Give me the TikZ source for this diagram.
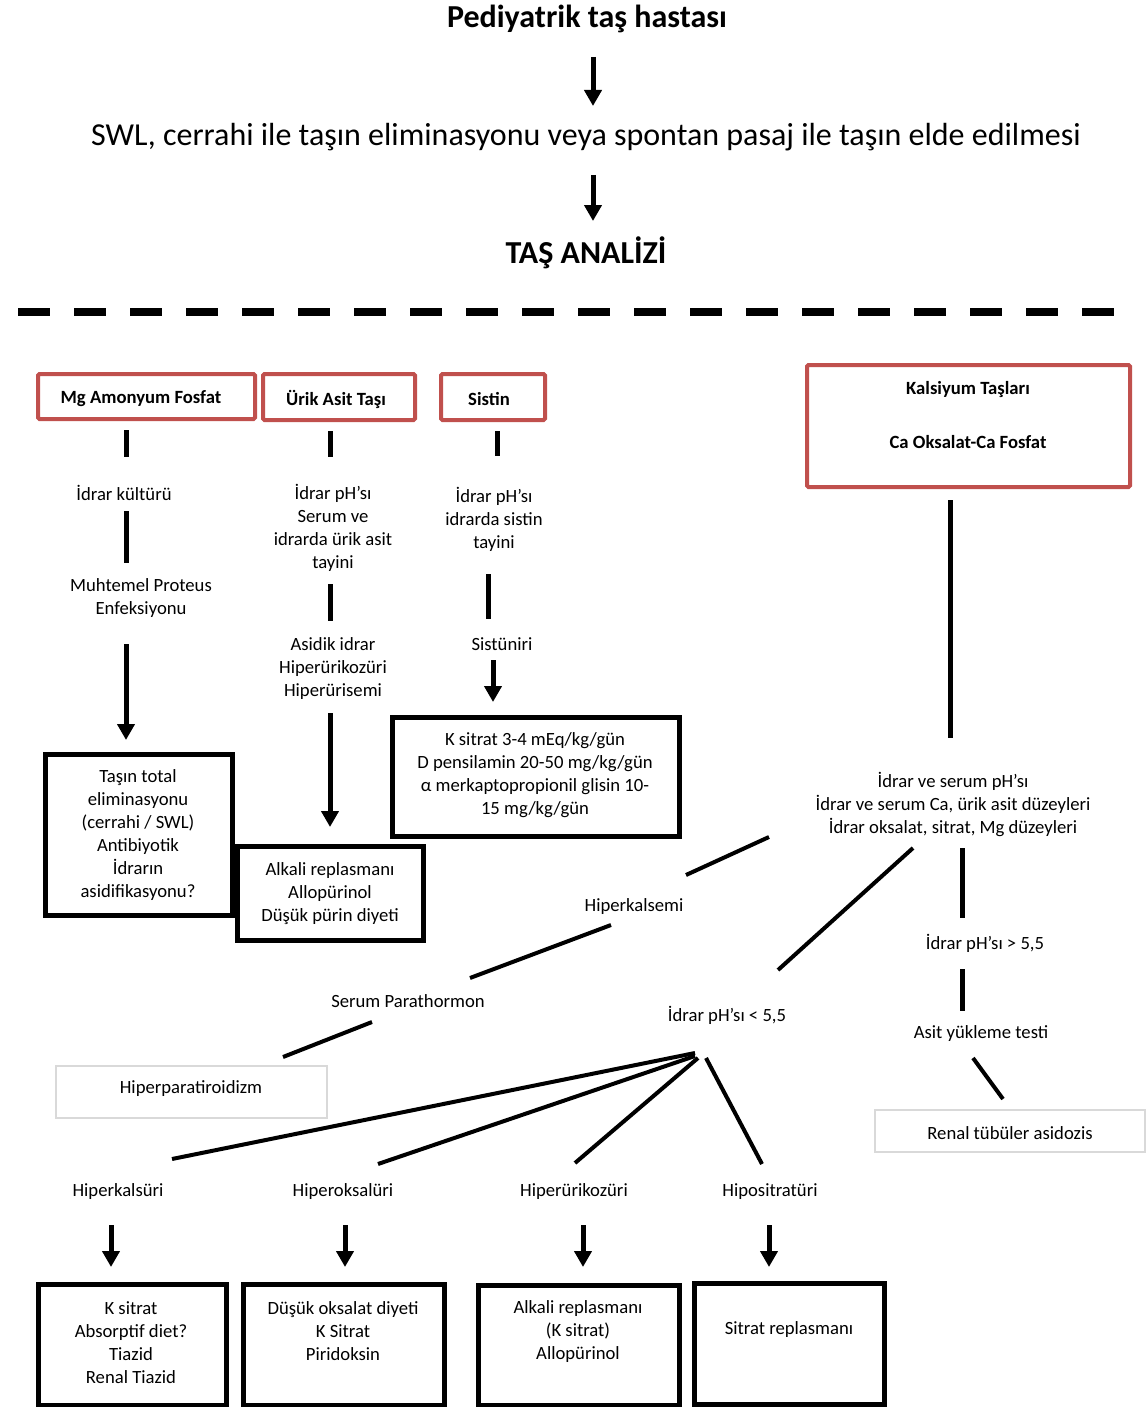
\documentclass[tikz,border=0pt]{standalone}
\usepackage{fontspec}
\setmainfont{Carlito}
\usetikzlibrary{arrows.meta}
\definecolor{boxred}{HTML}{C0504D}
\definecolor{boxgrey}{HTML}{D9D9D9}
\tikzset{
  txt/.style={font=\fontsize{18.67}{23}\selectfont, align=center, inner sep=0pt},
  btxt/.style={font=\fontsize{18.67}{23}\selectfont\bfseries, align=center, inner sep=0pt},
  bigtxt/.style={font=\fontsize{32}{36}\selectfont\bfseries, inner sep=0pt},
  swltxt/.style={font=\fontsize{32}{36}\selectfont, inner sep=0pt},
  redbox/.style={draw=boxred, line width=4pt, rounded corners=1.5pt, inner sep=0pt},
  blackbox/.style={draw=black, line width=5pt, inner sep=0pt},
  greybox/.style={draw=boxgrey, line width=2pt, inner sep=0pt},
  conn/.style={line width=5pt},
  fanline/.style={line width=4pt},
  arr/.style={line width=5pt, -{Triangle[width=17pt,length=16pt]}},
}
\begin{document}
\begin{tikzpicture}[x=1pt,y=-1pt]
\path[use as bounding box] (0,0) rectangle (1147,1407);

% header
\node[bigtxt] (title) at (587,19) {Pediyatrik taş hastası};
\node[swltxt] (swl) at (586,137) {SWL, cerrahi ile taşın eliminasyonu veya spontan pasaj ile taşın elde edilmesi};
\node[bigtxt] (analiz) at (586,253) {TAŞ ANALİZİ};
\coordinate (t1a) at (593,57); \coordinate (t1b) at (593,106);
\coordinate (t2a) at (593,175); \coordinate (t2b) at (593,221);
\draw[arr] (t1a) -- (t1b);
\draw[arr] (t2a) -- (t2b);
\draw[line width=8pt, dash pattern=on 32pt off 24pt] (18,312) -- (1116,312);

% red boxes
\node[redbox, minimum width=217pt, minimum height=45pt] (mg) at (146.5,396.5) {};
\node[btxt] (mgt) at (141,399) {Mg Amonyum Fosfat};
\node[redbox, minimum width=152pt, minimum height=46pt] (urik) at (339,397) {};
\node[btxt] (urikt) at (336,399) {Ürik Asit Taşı};
\node[redbox, minimum width=104pt, minimum height=46pt] (sistin) at (493,397) {};
\node[btxt] (sistint) at (489,399) {Sistin};
\node[redbox, minimum width=323pt, minimum height=122pt] (kal) at (968.5,426) {};
\node[btxt] (kalt1) at (968,390) {Kalsiyum Taşları};
\node[btxt] (kalt2) at (968,442) {Ca Oksalat-Ca Fosfat};

% column 1
\node[txt] (kultur) at (124,493) {İdrar kültürü};
\node[txt] (proteus) at (141,598.5) {Muhtemel Proteus\\Enfeksiyonu};
\node[blackbox, minimum width=187pt, minimum height=161pt] (tasin) at (138.5,834.5) {};
\node[txt] (tasint) at (138,835) {Taşın total\\eliminasyonu\\(cerrahi / SWL)\\Antibiyotik\\İdrarın\\asidifikasyonu?};
\coordinate (c1a) at (126,430); \coordinate (c1b) at (126,457);
\coordinate (c1c) at (126,511); \coordinate (c1d) at (126,563);
\coordinate (c1e) at (126,644); \coordinate (c1f) at (126,740);
\draw[conn] (c1a) -- (c1b);
\draw[conn] (c1c) -- (c1d);
\draw[arr] (c1e) -- (c1f);

% column 2
\node[txt] (phurik) at (333,527.5) {İdrar pH’sı\\Serum ve\\idrarda ürik asit\\tayini};
\node[txt] (asidik) at (333,668.5) {Asidik idrar\\Hiperürikozüri\\Hiperürisemi};
\node[blackbox, minimum width=186pt, minimum height=94pt] (alk1) at (330,893) {};
\node[txt] (alk1t) at (330,893.5) {Alkali replasmanı\\Allopürinol\\Düşük pürin diyeti};
\coordinate (c2a) at (330,431); \coordinate (c2b) at (330,457);
\coordinate (c2c) at (330,584); \coordinate (c2d) at (330,621);
\coordinate (c2e) at (330,713); \coordinate (c2f) at (330,827);
\draw[conn] (c2a) -- (c2b);
\draw[conn] (c2c) -- (c2d);
\draw[arr] (c2e) -- (c2f);

% column 3
\node[txt] (phsis) at (494,519) {İdrar pH’sı\\idrarda sistin\\tayini};
\node[txt] (sisturi) at (502,644) {Sistüniri};
\node[blackbox, minimum width=287pt, minimum height=119pt] (ksit) at (535.5,776.5) {};
\node[txt] (ksitt) at (535,775.5) {K sitrat 3-4 mEq/kg/gün\\D pensilamin 20-50 mg/kg/gün\\α merkaptopropionil glisin 10-\\15 mg/kg/gün};
\coordinate (c3a) at (497,431); \coordinate (c3b) at (497,456);
\coordinate (c3c) at (488,574); \coordinate (c3d) at (488,619);
\coordinate (c3e) at (493,660); \coordinate (c3f) at (493,702);
\draw[conn] (c3a) -- (c3b);
\draw[conn] (c3c) -- (c3d);
\draw[arr] (c3e) -- (c3f);

% calcium branch
\node[txt] (tetkik) at (953,804.5) {İdrar ve serum pH’sı\\İdrar ve serum Ca, ürik asit düzeyleri\\İdrar oksalat, sitrat, Mg düzeyleri};
\node[txt] (hkalsemi) at (634,907) {Hiperkalsemi};
\node[txt] (spth) at (408,1001) {Serum Parathormon};
\node[greybox, minimum width=271pt, minimum height=52pt] (hpt) at (191.5,1092) {};
\node[txt] (hptt) at (191,1089) {Hiperparatiroidizm};
\node[txt] (phless) at (727,1015) {İdrar pH’sı < 5,5};
\node[txt] (phmore) at (985,943) {İdrar pH’sı > 5,5};
\node[txt] (asityuk) at (981,1034) {Asit yükleme testi};
\node[greybox, minimum width=270pt, minimum height=42pt] (rta) at (1010,1131) {};
\node[txt] (rtat) at (1010,1133) {Renal tübüler asidozis};

\coordinate (k1) at (950,500); \coordinate (k2) at (950,738);
\draw[conn] (k1) -- (k2);
\coordinate (h1) at (769,837); \coordinate (h2) at (686,875);
\coordinate (h3) at (611,925); \coordinate (h4) at (470,978);
\coordinate (s1) at (372,1022); \coordinate (s2) at (283,1057);
\draw[fanline] (h1) -- (h2);
\draw[fanline] (h3) -- (h4);
\draw[fanline] (s1) -- (s2);
\coordinate (p1) at (913,848); \coordinate (p2) at (778,970);
\draw[fanline] (p1) -- (p2);
\coordinate (m1) at (962,848); \coordinate (m2) at (962,918);
\coordinate (m3) at (962,969); \coordinate (m4) at (962,1011);
\draw[conn] (m1) -- (m2);
\draw[conn] (m3) -- (m4);
\coordinate (r1) at (973,1058); \coordinate (r2) at (1003,1099);
\draw[fanline] (r1) -- (r2);

% fan from pH < 5,5
\coordinate (f0) at (695,1053); \coordinate (f0b) at (695,1056);
\coordinate (f0c) at (698,1058); \coordinate (f0d) at (706,1058);
\coordinate (f1) at (172,1159); \coordinate (f2) at (378,1164);
\coordinate (f3) at (575,1163); \coordinate (f4) at (762,1164);
\draw[fanline] (f0) -- (f1);
\draw[fanline] (f0b) -- (f2);
\draw[fanline] (f0c) -- (f3);
\draw[fanline] (f0d) -- (f4);

\node[txt] (hks) at (118,1192) {Hiperkalsüri};
\node[txt] (hos) at (343,1192) {Hiperoksalüri};
\node[txt] (hus) at (574,1192) {Hiperürikozüri};
\node[txt] (hss) at (770,1192) {Hipositratüri};

\coordinate (b1a) at (111,1225); \coordinate (b1b) at (111,1267);
\coordinate (b2a) at (345,1225); \coordinate (b2b) at (345,1267);
\coordinate (b3a) at (583,1225); \coordinate (b3b) at (583,1267);
\coordinate (b4a) at (769,1225); \coordinate (b4b) at (769,1267);
\draw[arr] (b1a) -- (b1b);
\draw[arr] (b2a) -- (b2b);
\draw[arr] (b3a) -- (b3b);
\draw[arr] (b4a) -- (b4b);

% bottom boxes
\node[blackbox, minimum width=188pt, minimum height=121pt] (bx1) at (132,1344.5) {};
\node[txt] (bx1t) at (131,1343) {K sitrat\\Absorptif diet?\\Tiazid\\Renal Tiazid};
\node[blackbox, minimum width=201pt, minimum height=121pt] (bx2) at (343.5,1344.5) {};
\node[txt] (bx2t) at (343,1331.5) {Düşük oksalat diyeti\\K Sitrat\\Piridoksin};
\node[blackbox, minimum width=201pt, minimum height=120pt] (bx3) at (578.5,1345) {};
\node[txt] (bx3t) at (578,1332) {Alkali replasmanı\\(K sitrat)\\Allopürinol};
\node[blackbox, minimum width=190pt, minimum height=121pt] (bx4) at (789,1343.5) {};
\node[txt] (bx4t) at (789,1330) {Sitrat replasmanı};
\end{tikzpicture}
\end{document}
